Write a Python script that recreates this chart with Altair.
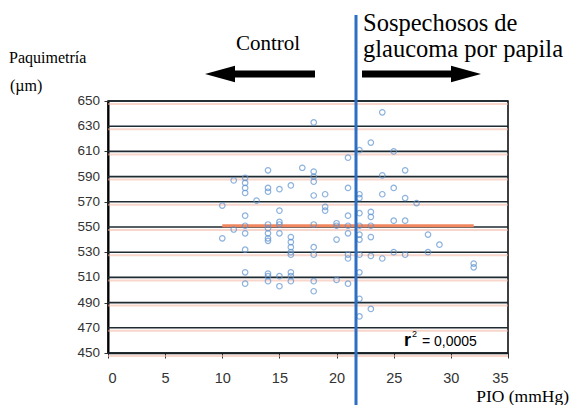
import altair as alt
import pandas as pd

# PIO columns (mmHg) and the paquimetría readings (µm) in each column
pio_cols = [10, 11, 12, 13, 14, 15, 16, 17, 18, 19, 20, 21, 22, 23, 24, 25, 26, 27, 28, 29, 32]
paq_groups = [
    [567, 541],
    [587, 548],
    [589, 585, 581, 577, 559, 551, 545, 532, 514, 505],
    [571],
    [595, 581, 578, 552, 549, 545, 541, 539, 513, 511, 507],
    [580, 563, 554, 552, 545, 511, 503],
    [583, 542, 538, 534, 530, 528, 514, 511, 507],
    [597],
    [633, 594, 590, 586, 575, 552, 534, 528, 507, 499],
    [576, 566, 563],
    [553, 551, 540, 508],
    [605, 581, 559, 551, 545, 528, 525, 505],
    [611, 576, 573, 561, 551, 544, 540, 528, 514, 493, 479],
    [617, 562, 558, 551, 542, 527, 485],
    [641, 591, 576, 525],
    [610, 581, 555, 530],
    [595, 573, 555, 528],
    [569],
    [544, 530],
    [536],
    [521, 518],
]
reg_x = [10, 32]
reg_y = [551, 551]
cutoff = [21.7]
x_ticks = [0, 5, 10, 15, 20, 25, 30, 35]
y_ticks = [450, 470, 490, 510, 530, 550, 570, 590, 610, 630, 650]

rows = []
for px, grp in zip(pio_cols, paq_groups):
    for v in grp:
        rows.append({"pio": px, "paq": v})
df = pd.DataFrame(rows)
reg_df = pd.DataFrame({"pio": reg_x, "paq": reg_y})
grid_df = pd.DataFrame({"paq": y_ticks, "lab": [str(v) for v in y_ticks]})
cut_df = pd.DataFrame({"pio": cutoff})

W, H = 400, 252
xs = alt.Scale(domain=[0, 35], nice=False)
ys = alt.Scale(domain=[450, 650], nice=False)

serif = "Liberation Serif"
sans = "Liberation Sans"

salmon = alt.Chart(grid_df).mark_rule(
    color="#f3b4a3", strokeWidth=2, yOffset=3, opacity=0.55
).encode(
    y=alt.Y("paq:Q", scale=ys, axis=alt.Axis(
        values=y_ticks, title=None, grid=False, labels=False,
        domainColor="black", domainWidth=2, tickColor="#333333", tickSize=4)),
    x=alt.value(0), x2=alt.value(W),
)

grid = alt.Chart(grid_df).mark_rule(color="#1e2b30", strokeWidth=1.6).encode(
    y=alt.Y("paq:Q", scale=ys),
    x=alt.value(0), x2=alt.value(W),
)

ylabels = alt.Chart(grid_df).mark_text(
    align="right", baseline="middle", font=sans, fontSize=13.5, color="#333333"
).encode(
    y=alt.Y("paq:Q", scale=ys), x=alt.value(-8), text="lab:N"
)

points = alt.Chart(df).mark_point(
    shape="circle", filled=False, size=30, strokeWidth=1.2, color="#5e93d0"
).encode(
    x=alt.X("pio:Q", scale=xs, axis=alt.Axis(
        values=x_ticks, title=None, grid=False, labelFont=sans, labelFontSize=14.5,
        labelColor="#333333", domainColor="black", domainWidth=1.5,
        tickColor="#333333", tickSize=5, labelPadding=13, format="d")),
    y=alt.Y("paq:Q", scale=ys),
)

reg = alt.Chart(reg_df).mark_line(color="#f2875f", strokeWidth=3).encode(
    x=alt.X("pio:Q", scale=xs), y=alt.Y("paq:Q", scale=ys)
)

cut = alt.Chart(cut_df).mark_rule(color="#2d6fc2", strokeWidth=3).encode(
    x=alt.X("pio:Q", scale=xs), y=alt.value(-86), y2=alt.value(H + 52)
)

def txt(t, x, y, size, font=serif, align="left", weight="normal"):
    return alt.Chart(pd.DataFrame({"t": [t]})).mark_text(
        text=t, font=font, fontSize=size, align=align, baseline="alphabetic",
        color="black", fontWeight=weight
    ).encode(x=alt.value(x), y=alt.value(y))

labels = [
    txt("Paquimetría", -99, -38, 16),
    txt("(µm)", -98, -10, 16),
    txt("Control", 160, -51, 21, align="center"),
    txt("Sospechosos de", 255, -70, 24.5),
    txt("glaucoma por papila", 255, -44, 24.5),
    txt("PIO (mmHg)", 461, 301, 17.5, align="right"),
    txt("r", 296, 245, 18, font=sans, weight="bold"),
    txt("2", 304, 236, 9, font=sans),
    txt("= 0,0005", 314, 245, 14, font=sans),
]

arrow_df = pd.DataFrame({"a": [0]})
shaft_l = alt.Chart(arrow_df).mark_rule(color="black", strokeWidth=7).encode(
    x=alt.value(125), x2=alt.value(207), y=alt.value(-27))
head_l = alt.Chart(arrow_df).mark_point(
    shape="M -1 0 L 1 -0.55 L 1 0.55 Z", filled=True, color="black", size=900, opacity=1
).encode(x=alt.value(112), y=alt.value(-27))
shaft_r = alt.Chart(arrow_df).mark_rule(color="black", strokeWidth=7).encode(
    x=alt.value(254), x2=alt.value(345), y=alt.value(-27))
head_r = alt.Chart(arrow_df).mark_point(
    shape="M 1 0 L -1 -0.55 L -1 0.55 Z", filled=True, color="black", size=900, opacity=1
).encode(x=alt.value(358), y=alt.value(-27))

chart = alt.layer(
    salmon, grid, ylabels, reg, points, cut, shaft_l, head_l, shaft_r, head_r, *labels
).properties(
    width=W, height=H,
    padding={"left": 100, "top": 93, "right": 62, "bottom": 52},
    autosize=alt.AutoSizeParams(type="none"),
    background="white",
).configure_view(stroke="black", strokeWidth=1.5)

chart.save("out.html", embed_options={"renderer": "svg", "actions": False})
